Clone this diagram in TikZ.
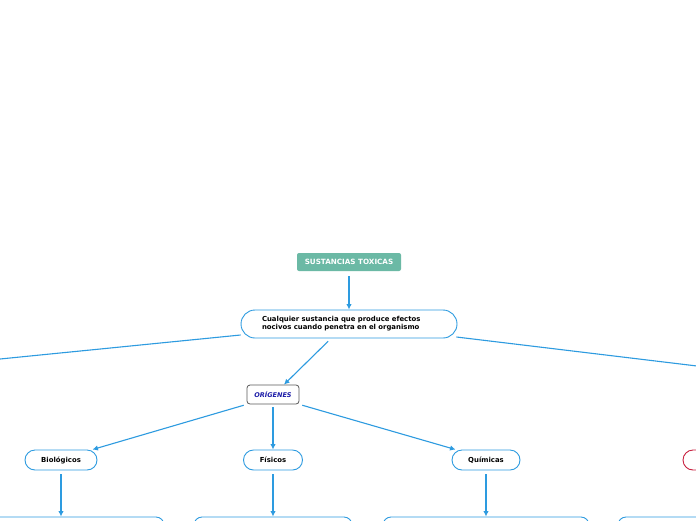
\documentclass[tikz,border=0pt]{standalone}
\usepackage{fontspec}
\setmainfont{DejaVu Sans}
\usetikzlibrary{arrows.meta}
\definecolor{lineblue}{HTML}{2D9BE0}
\definecolor{teal}{HTML}{6BB9A5}
\definecolor{darkblue}{HTML}{1B1BA8}
\definecolor{crimson}{HTML}{C8203F}
\begin{document}
\begin{tikzpicture}[x=1pt,y=-1pt,
  conn/.style={draw=lineblue,line width=1.1pt},
  arr/.style={conn,-{Latex[length=5.5pt,width=5.5pt]}},
  pill/.style={draw=lineblue,line width=0.9pt,fill=white,rounded corners=10pt,inner sep=0pt,font=\fontsize{6.9}{8.2}\selectfont\bfseries},
  bigbox/.style={draw=lineblue,line width=0.9pt,fill=white,rounded corners=8pt,inner sep=0pt},
  redpill/.style={draw=crimson,line width=0.9pt,fill=white,rounded corners=10pt,inner sep=0pt}
]
\useasboundingbox (0,0) rectangle (696,520);
\clip (0,0) rectangle (696,520);
\fill[white] (0,0) rectangle (696,520);

\node[fill=teal,rounded corners=2pt,minimum width=104pt,minimum height=18pt,inner sep=0pt,text=white,font=\fontsize{7.2}{8}\selectfont\bfseries] (top) at (349,262) {SUSTANCIAS TOXICAS};

\node[pill,rounded corners=14pt,minimum width=216pt,minimum height=28pt,text width=174pt,align=left] (main) at (349,324) {Cualquier sustancia que produce efectos\\nocivos cuando penetra en el organismo};

\node[draw=black!65,line width=0.8pt,fill=white,rounded corners=3pt,minimum width=52pt,minimum height=19pt,inner sep=0pt,text=darkblue,font=\fontsize{6.5}{8}\selectfont\bfseries\itshape] (ori) at (273,394.5) {ORÍGENES};

\node[pill,minimum width=72pt,minimum height=20pt] (bio) at (61,460) {Biológicos};
\node[pill,minimum width=59pt,minimum height=20pt] (fis) at (273,460) {Físicos};
\node[pill,minimum width=68pt,minimum height=20pt] (qui) at (486,460) {Químicas};
\node[redpill,minimum width=80pt,minimum height=20pt] (red) at (723,460) {};

\node[bigbox,minimum width=206pt,minimum height=50pt] (b1) at (61,542) {};
\node[bigbox,minimum width=158pt,minimum height=50pt] (b2) at (273,542) {};
\node[bigbox,minimum width=206pt,minimum height=50pt] (b3) at (486,542) {};
\node[bigbox,minimum width=160pt,minimum height=50pt] (b4) at (698,542) {};

\coordinate (offL) at (0,359);
\coordinate (offR) at (697,366);

\draw[arr,shorten <=5pt] (top) -- (main);
\draw[conn] ([yshift=-11pt]main.west) -- (offL);
\draw[conn] ([yshift=-13pt,xshift=-1pt]main.east) -- (offR);
\draw[arr,shorten <=4pt] ([xshift=-18pt]main.south) -- ([xshift=11pt]ori.north);
\draw[arr,shorten <=3pt] (ori.south west) -- ([xshift=-5pt]bio.north east);
\draw[arr,shorten <=3pt] (ori.south) -- (fis.north);
\draw[arr,shorten <=3pt] (ori.south east) -- ([xshift=4pt]qui.north west);
\draw[arr,shorten <=4pt] (bio.south) -- (b1.north);
\draw[arr,shorten <=4pt] (fis.south) -- (b2.north);
\draw[arr,shorten <=4pt] (qui.south) -- (b3.north);
\end{tikzpicture}
\end{document}
